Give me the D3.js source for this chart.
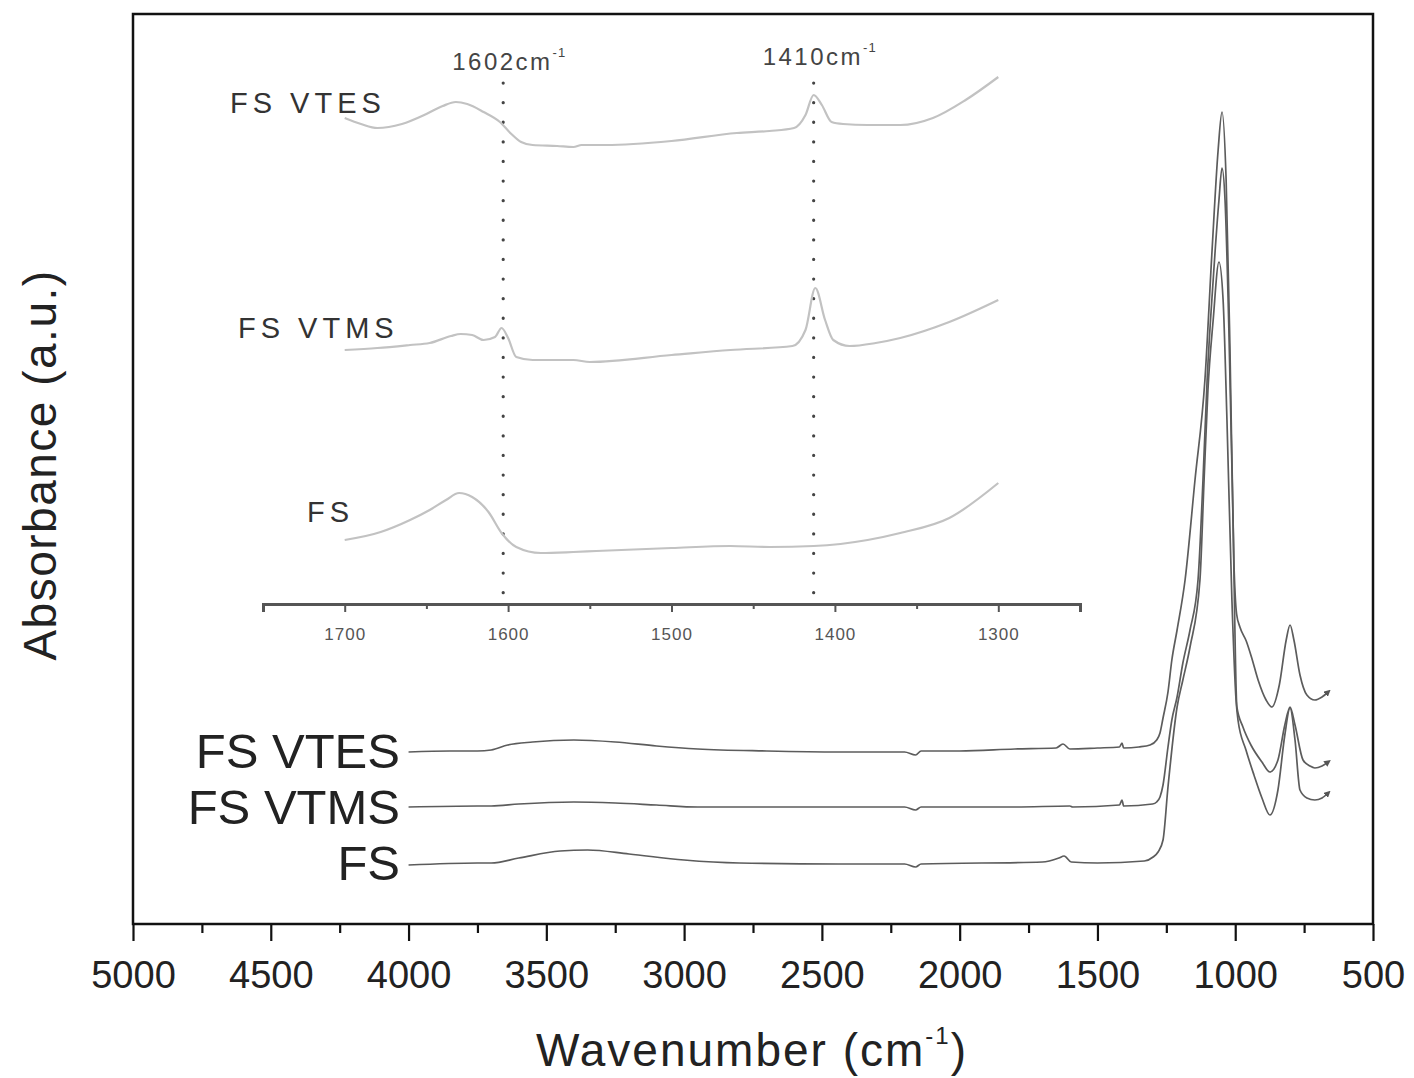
<!DOCTYPE html>
<html>
<head>
<meta charset="utf-8">
<script src="https://cdn.jsdelivr.net/npm/d3@7"></script>
<style>
  html, body { margin: 0; padding: 0; background: #fff; }
  svg { display: block; }
  text { font-family: "Liberation Sans", Arial, sans-serif; }
</style>
</head>
<body>
<svg id="chart" width="1414" height="1078"></svg>
<script>
// ---------------- DATA ----------------
// Main spectra: [wavenumber (cm-1), absorbance (a.u., offset stacked)]
const mainSeriesNames = ["FS VTES", "FS VTMS", "FS"];
const mainFSVTES = [[4000,172],[3850,173],[3750,173],[3700,174],[3640,179],[3550,182],[3400,184],[3250,182],[3100,178],[2950,175],[2700,173],[2440,172],[2200,172],[2160,169],[2140,173],[2000,173],[1800,175],[1650,176],[1625,180],[1600,175],[1500,176],[1420,177],[1411,181],[1405,176],[1350,177],[1309,179],[1285,184],[1273,191],[1262,206],[1244,232],[1230,264],[1211,294],[1182,344],[1146,444],[1110,544],[1084,674],[1062,774],[1048,812],[1033,744],[1019,574],[1005,364],[995,310],[983,297],[960,283],[940,266],[917,244],[888,224],[867,217],[840,239],[815,284],[801,299],[787,284],[765,249],[740,229],[711,224],[685,227],[663,232]];
const mainFSVTMS = [[4000,117],[3750,118],[3700,118],[3600,120],[3400,122],[3250,121],[3100,119],[2950,117],[2440,117],[2200,117],[2160,114],[2140,117],[1800,117],[1600,118],[1590,117],[1420,119],[1411,124],[1405,118],[1300,120],[1285,122],[1273,127],[1262,139],[1244,177],[1230,204],[1211,227],[1190,261],[1164,294],[1135,344],[1117,444],[1102,544],[1080,644],[1059,724],[1048,756],[1037,724],[1023,594],[1008,404],[994,217],[972,197],[943,179],[903,162],[874,152],[845,164],[820,199],[801,217],[783,199],[754,164],[729,158],[711,156],[685,158],[663,162]];
const mainFS = [[4000,59],[3750,61],[3700,61],[3600,66],[3450,73],[3350,74],[3200,70],[3000,64],[2800,61],[2440,60],[2200,60],[2160,57],[2140,60],[1700,62],[1640,66],[1621,68],[1595,62],[1500,61],[1330,63],[1298,67],[1280,72],[1262,84],[1244,137],[1211,217],[1190,244],[1164,277],[1128,344],[1113,444],[1099,534],[1080,604],[1059,662],[1044,624],[1030,504],[1012,324],[997,224],[990,204],[961,174],[932,149],[903,126],[874,109],[845,134],[820,189],[801,216],[783,184],[765,134],[740,126],[711,124],[685,126],[663,131]];

// Inset spectra (1700-1300 cm-1)
const insetSeriesNames = ["FS VTES", "FS VTMS", "FS"];
const insetFSVTES = [[1700,482],[1690,476],[1680,472],[1665,476],[1650,486],[1640,494],[1632,498],[1625,496],[1615,488],[1605,478],[1598,466],[1592,458],[1585,455],[1570,454],[1560,453],[1555,455],[1540,455],[1500,459],[1460,467],[1440,469],[1425,472],[1418,485],[1413,505],[1408,495],[1402,478],[1395,476],[1380,475],[1360,475],[1340,482],[1320,500],[1300,523]];
const insetFSVTMS = [[1700,250],[1680,252],[1660,255],[1648,257],[1635,264],[1629,266],[1622,265],[1615,260],[1608,263],[1604,272],[1600,262],[1595,243],[1585,240],[1560,240],[1550,238],[1500,245],[1464,250],[1426,254],[1418,270],[1412,312],[1406,280],[1401,260],[1391,254],[1375,257],[1360,262],[1330,278],[1300,300]];
const insetFS = [[1700,60],[1678,68],[1660,80],[1648,90],[1638,100],[1630,107],[1622,103],[1612,88],[1604,67],[1595,53],[1580,47],[1560,48],[1546,49],[1500,52],[1464,54],[1440,53],[1413,54],[1380,60],[1360,67],[1330,82],[1300,117]];

// Axis ticks
const mainXTicks = [5000, 4500, 4000, 3500, 3000, 2500, 2000, 1500, 1000, 500];
const mainXMinorTicks = [4750, 4250, 3750, 3250, 2750, 2250, 1750, 1250, 750];
const insetXTicks = [1700, 1600, 1500, 1400, 1300];
const insetXMinorTicks = [1750, 1650, 1550, 1450, 1350, 1250];

// Marked bands in inset
const bandPositions = [1603, 1413];
const bandLabels = ["1602cm", "1410cm"];

// ---------------- DRAW ----------------
const svg = d3.select("#chart");

const mainX = d3.scaleLinear().domain([5000, 500]).range([133, 1373]);
const mainY = d3.scaleLinear().domain([0, 910]).range([924, 14]);

const insetX = d3.scaleLinear().domain([1750, 1250]).range([263, 1080]);
const insetY = d3.scaleLinear().domain([0, 560]).range([600, 40]);

// Arrow marker for main curve ends
const defs = svg.append("defs");
defs.append("marker")
  .attr("id", "arrow")
  .attr("viewBox", "0 0 10 10")
  .attr("refX", 5).attr("refY", 5)
  .attr("markerWidth", 4).attr("markerHeight", 4)
  .attr("orient", "auto")
  .attr("markerUnits", "strokeWidth")
  .append("path")
  .attr("d", "M0,0 L10,5 L0,10 z")
  .attr("fill", "#555");

// Frame
svg.append("rect")
  .attr("x", 133).attr("y", 14)
  .attr("width", 1373 - 133).attr("height", 924 - 14)
  .attr("fill", "none").attr("stroke", "#111").attr("stroke-width", 2.5);

// Main x axis
const mainAxis = d3.axisBottom(mainX).tickValues(mainXTicks).tickSize(17).tickFormat(d3.format("d"));
const gMainAxis = svg.append("g").attr("transform", "translate(0,924)").call(mainAxis);
gMainAxis.select(".domain").remove();
gMainAxis.selectAll(".tick line").attr("stroke", "#111").attr("stroke-width", 2.2);
gMainAxis.selectAll(".tick text")
  .attr("font-size", 38).attr("fill", "#222").attr("dy", 0).attr("y", 64)
  .style("font-family", "'Liberation Sans', Arial, sans-serif");
const minorAxis = d3.axisBottom(mainX).tickValues(mainXMinorTicks).tickSize(9).tickFormat("");
const gMinor = svg.append("g").attr("transform", "translate(0,924)").call(minorAxis);
gMinor.select(".domain").remove();
gMinor.selectAll(".tick line").attr("stroke", "#111").attr("stroke-width", 2.2);

// Axis titles
const xTitle = svg.append("text")
  .attr("x", 752).attr("y", 1066)
  .attr("text-anchor", "middle")
  .attr("font-size", 46).attr("fill", "#222").attr("letter-spacing", 2);
xTitle.append("tspan").text("Wavenumber (cm");
xTitle.append("tspan").text("-1").attr("font-size", 24).attr("dy", -22);
xTitle.append("tspan").text(")").attr("dy", 22);

svg.append("text")
  .attr("transform", "translate(56,465) rotate(-90)")
  .attr("text-anchor", "middle")
  .attr("font-size", 46).attr("fill", "#222").attr("letter-spacing", 1.5)
  .text("Absorbance (a.u.)");

// Main curves
const mainLine = d3.line()
  .x(d => mainX(d[0]))
  .y(d => mainY(d[1]))
  .curve(d3.curveMonotoneX);

const mainData = [mainFSVTES, mainFSVTMS, mainFS];
svg.append("g").selectAll("path")
  .data(mainData)
  .join("path")
  .attr("d", mainLine)
  .attr("fill", "none")
  .attr("stroke", "#5c5c5c")
  .attr("stroke-width", 1.7)
  .attr("marker-end", "url(#arrow)");

// Main series labels
const mainLabelBaselines = [768, 824, 880];
svg.append("g").selectAll("text")
  .data(mainSeriesNames)
  .join("text")
  .attr("x", 400)
  .attr("y", (d, i) => mainLabelBaselines[i])
  .attr("text-anchor", "end")
  .attr("font-size", 49).attr("fill", "#222")
  .text(d => d);

// ---------- Inset ----------
// Inset axis
const insetAxis = d3.axisBottom(insetX).tickValues(insetXTicks).tickSize(8).tickFormat(d3.format("d"));
const gInset = svg.append("g").attr("transform", "translate(0,604)").call(insetAxis);
gInset.select(".domain").attr("stroke", "#555").attr("stroke-width", 3);
gInset.selectAll(".tick line").attr("stroke", "#555").attr("stroke-width", 2);
gInset.selectAll(".tick text")
  .attr("font-size", 17).attr("fill", "#555").attr("dy", 0).attr("y", 36)
  .attr("letter-spacing", 1)
  .style("font-family", "'Liberation Sans', Arial, sans-serif");
const insetMinor = d3.axisBottom(insetX).tickValues(insetXMinorTicks).tickSize(5).tickFormat("");
const gInsetMinor = svg.append("g").attr("transform", "translate(0,604)").call(insetMinor);
gInsetMinor.select(".domain").remove();
gInsetMinor.selectAll(".tick line").attr("stroke", "#555").attr("stroke-width", 2);

// Dotted band markers
svg.append("g").selectAll("line")
  .data(bandPositions)
  .join("line")
  .attr("x1", d => insetX(d)).attr("x2", d => insetX(d))
  .attr("y1", 83).attr("y2", 598)
  .attr("stroke", "#444")
  .attr("stroke-width", 3.2)
  .attr("stroke-linecap", "round")
  .attr("stroke-dasharray", "0.1 19.5");

// Band labels
const bandLabelG = svg.append("g").selectAll("text")
  .data(bandLabels)
  .join("text")
  .attr("x", (d, i) => insetX(bandPositions[i]) + 6)
  .attr("y", (d, i) => i === 0 ? 70 : 65)
  .attr("text-anchor", "middle")
  .attr("font-size", 24).attr("fill", "#444").attr("letter-spacing", 2.5);
bandLabelG.append("tspan").text(d => d);
bandLabelG.append("tspan").text("-1").attr("font-size", 13).attr("dy", -13).attr("letter-spacing", 1);

// Inset curves
const insetLine = d3.line()
  .x(d => insetX(d[0]))
  .y(d => insetY(d[1]))
  .curve(d3.curveMonotoneX);

const insetData = [insetFSVTES, insetFSVTMS, insetFS];
svg.append("g").selectAll("path")
  .data(insetData)
  .join("path")
  .attr("d", insetLine)
  .attr("fill", "none")
  .attr("stroke", "#c2c2c2")
  .attr("stroke-width", 2.2);

// Inset series labels
const insetLabelPos = [[230, 113], [238, 338], [307, 522]];
svg.append("g").selectAll("text")
  .data(insetSeriesNames)
  .join("text")
  .attr("x", (d, i) => insetLabelPos[i][0])
  .attr("y", (d, i) => insetLabelPos[i][1])
  .attr("font-size", 29).attr("fill", "#333").attr("letter-spacing", 5)
  .text(d => d);
</script>
</body>
</html>
